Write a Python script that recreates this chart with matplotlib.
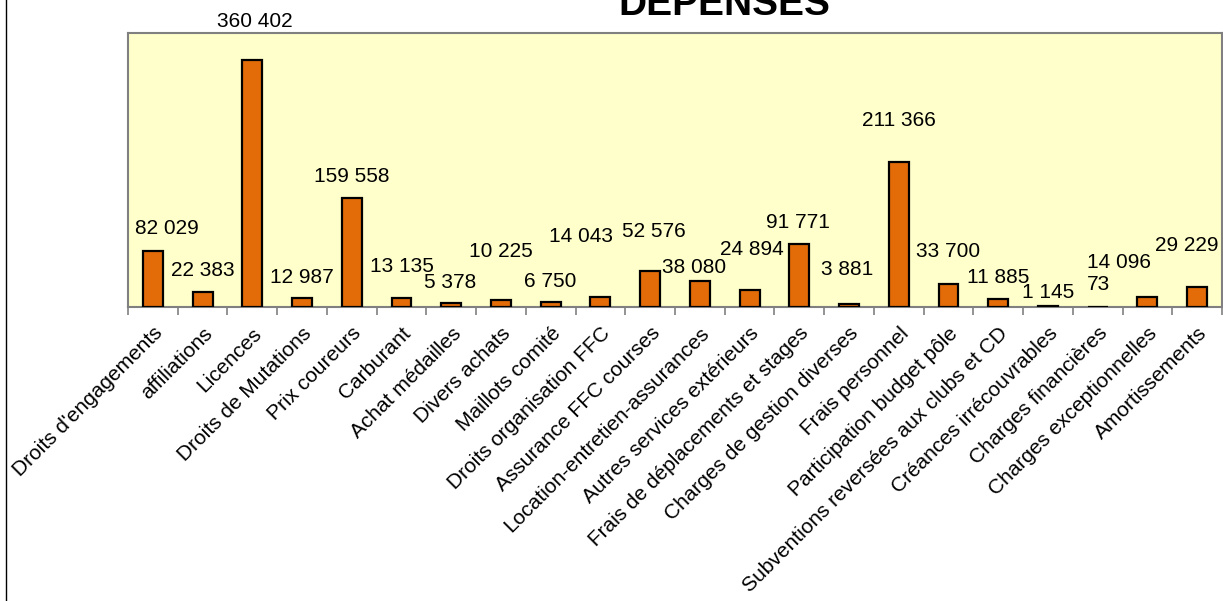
import numpy as np
import matplotlib
matplotlib.use('Agg')
import matplotlib.pyplot as plt
from matplotlib.lines import Line2D

plt.rcParams['font.family'] = ['Liberation Sans', 'DejaVu Sans']

# données
categories = [
    "Droits d'engagements", "affiliations", "Licences", "Droits de Mutations",
    "Prix coureurs", "Carburant", "Achat médailles", "Divers achats",
    "Maillots comité", "Droits organisation FFC", "Assurance FFC courses",
    "Location-entretien-assurances", "Autres services extérieurs",
    "Frais de déplacements et stages", "Charges de gestion diverses",
    "Frais personnel", "Participation budget pôle",
    "Subventions reversées aux clubs et CD", "Créances irrécouvrables",
    "Charges financières", "Charges exceptionnelles", "Amortissements",
]
depenses = [82029, 22383, 360402, 12987, 159558, 13135, 5378, 10225, 6750,
            14043, 52576, 38080, 24894, 91771, 3881, 211366, 33700, 11885,
            1145, 73, 14096, 29229]

# décalage des étiquettes (pixels) comme dans le graphique Excel
lbl_dx = [14, 0, 2, 0, 0, 0, -1, 0, 0, -19, 4, -6, 2, -1, -2, 0, 0, 0, 0, 1, -28, -10]
lbl_dy = [22, 21, 39, 21, 21, 32, 21, 48, 21, 61, 39, 13, 40, 22, 35, 42, 32, 21, 14, 22, 35, 41]

W, H = 1223, 601
fig = plt.figure(figsize=(W / 100, H / 100), dpi=100)
ax = fig.add_axes([128 / W, 1 - 307 / H, (1222 - 128) / W, (307 - 33) / H])
ax.set_facecolor('#FFFFCC')

x = np.arange(len(categories))
ax.bar(x, depenses, width=0.4, color='#E36C09', edgecolor='black', linewidth=1.6, zorder=3)

for i, v in enumerate(depenses):
    ax.annotate(f'{v:,}'.replace(',', ' '), (x[i], v), xytext=(lbl_dx[i], lbl_dy[i]),
                textcoords='offset pixels', ha='center', va='center',
                fontsize=15, annotation_clip=False)

ax.set_xlim(-0.5, len(categories) - 0.5)
ax.set_ylim(0, 400000)
ax.set_yticks([])
ax.set_xticks(np.arange(-0.5, len(categories), 1))
ax.set_xticklabels([])
ax.tick_params(axis='x', which='major', direction='out', length=6, color='#808080', width=1.2)
ax.set_xticks(x, categories, minor=True)
ax.tick_params(axis='x', which='minor', length=0, pad=12, labelsize=15)
for lab in ax.get_xticklabels(minor=True):
    lab.set_rotation(45)
    lab.set_ha('right')
    lab.set_va('top')
    lab.set_rotation_mode('anchor')

for s in ax.spines.values():
    s.set_color('#808080')
    s.set_linewidth(1.5)

fig.text(724 / W, 1 - 15 / H, 'DÉPENSES', ha='center', va='baseline',
         fontsize=28, fontweight='bold')
fig.add_artist(Line2D([5.5 / W, 5.5 / W], [0, 1], color='black', linewidth=1))

fig.savefig('out.png', dpi=100)
